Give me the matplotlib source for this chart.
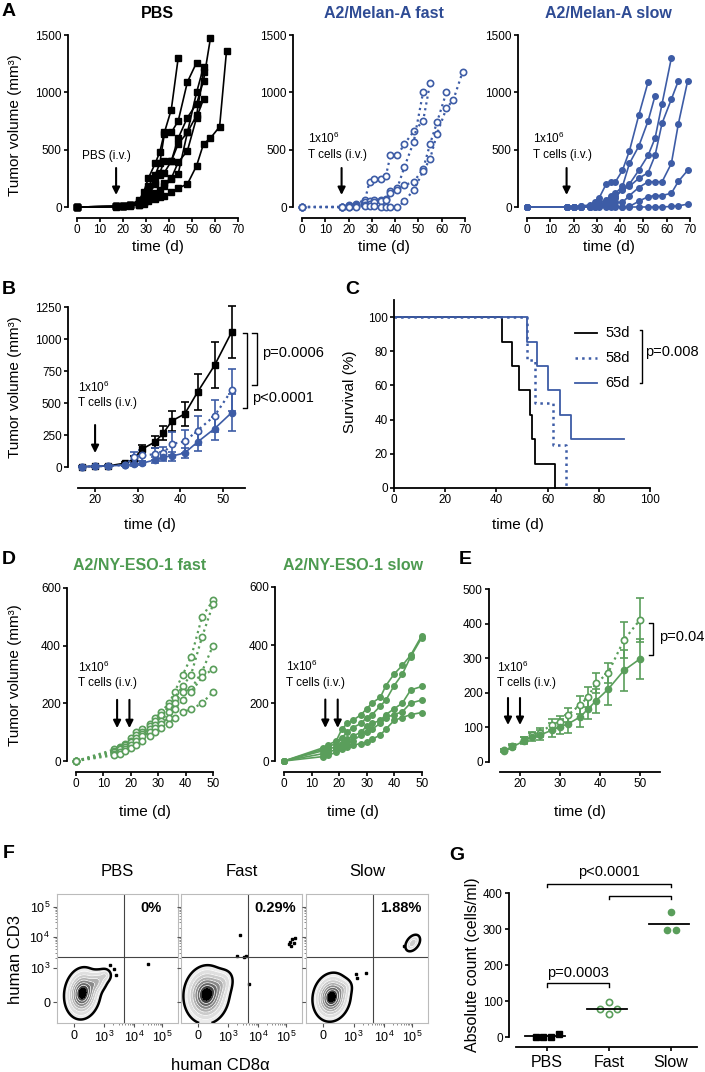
import numpy as np
import matplotlib
matplotlib.use("Agg")
import matplotlib.pyplot as plt

plt.rcParams['font.family'] = ['Liberation Sans', 'DejaVu Sans']
plt.rcParams['mathtext.fontset'] = 'custom'
plt.rcParams['mathtext.rm'] = 'Liberation Sans'
plt.rcParams['mathtext.it'] = 'Liberation Sans:italic'
plt.rcParams['mathtext.bf'] = 'Liberation Sans:bold'

# ---------------- data ----------------
# A: individual tumour growth curves (days, mm3)
pbs_days = [
    [0, 17, 20, 23, 27, 29, 31, 34, 36, 38, 41, 44],
    [0, 17, 20, 23, 27, 29, 31, 34, 36, 38, 41, 44, 48, 52],
    [0, 17, 20, 23, 27, 29, 31, 34, 36, 38, 41, 44, 48, 52, 55, 58],
    [0, 17, 20, 23, 27, 29, 31, 34, 36, 38, 41, 44, 48, 52, 55],
    [0, 17, 20, 23, 27, 29, 31, 34, 36, 38, 41, 44, 48, 52, 55],
    [0, 17, 20, 23, 27, 29, 31, 34, 36, 38, 41, 44, 48, 52, 55, 58, 62, 65],
    [0, 17, 20, 23, 27, 29, 31, 34, 36, 38, 41, 44, 48, 52, 55],
]
pbs_vol = [
    [0, 5, 10, 20, 60, 130, 250, 380, 480, 650, 850, 1300],
    [0, 5, 10, 15, 40, 80, 180, 280, 380, 640, 650, 750, 1090, 1260],
    [0, 5, 10, 15, 30, 60, 120, 220, 300, 400, 400, 600, 780, 900, 1100, 1470],
    [0, 5, 10, 15, 30, 50, 100, 200, 280, 300, 400, 550, 650, 1000, 1220],
    [0, 5, 10, 15, 20, 40, 70, 120, 150, 210, 250, 390, 490, 780, 940],
    [0, 2, 5, 10, 20, 30, 50, 70, 90, 100, 128, 165, 200, 360, 550, 600, 700, 1360],
    [0, 5, 10, 15, 25, 40, 60, 80, 100, 180, 240, 290, 650, 800, 1180],
]
melan_fast_days = [
    [0, 17, 20, 23, 27, 29, 31, 34, 36, 38, 41, 44, 48, 52, 55],
    [0, 17, 20, 23, 27, 29, 31, 34, 36, 38, 41, 44, 48, 52],
    [0, 17, 20, 23, 27, 29, 31, 34, 36, 38, 41, 44, 48, 52, 55, 58, 62],
    [0, 17, 20, 23, 27, 29, 31, 34, 36, 38, 41, 44, 48, 52, 55, 58, 62, 65, 69],
]
melan_fast_vol = [
    [0, 0, 20, 30, 60, 220, 240, 245, 270, 450, 450, 550, 660, 750, 1080],
    [0, 0, 10, 20, 40, 50, 60, 60, 70, 140, 170, 350, 570, 1000],
    [0, 0, 0, 10, 20, 30, 40, 50, 60, 120, 150, 190, 220, 330, 550, 740, 1000],
    [0, 0, 0, 0, 10, 10, 10, 0, 0, 0, 0, 50, 150, 310, 420, 640, 860, 935, 1180],
]
melan_slow_days = [
    [0, 17, 20, 23, 27, 29, 31, 34, 36, 38, 41, 44, 48, 52],
    [0, 17, 20, 23, 27, 29, 31, 34, 36, 38, 41, 44, 48, 52, 55],
    [0, 17, 20, 23, 27, 29, 31, 34, 36, 38, 41, 44, 48, 52, 55, 58, 62],
    [0, 17, 20, 23, 27, 29, 31, 34, 36, 38, 41, 44, 48, 52, 55, 58, 62, 65],
    [0, 17, 20, 23, 27, 29, 31, 34, 36, 38, 41, 44, 48, 52, 55, 58, 62, 65, 69],
    [0, 17, 20, 23, 27, 29, 31, 34, 36, 38, 41, 44, 48, 52, 55, 58, 62, 65, 69],
    [0, 17, 20, 23, 27, 29, 31, 34, 36, 38, 41, 44, 48, 52, 55, 58, 62, 65, 69],
]
melan_slow_vol = [
    [0, 0, 0, 5, 20, 40, 80, 200, 220, 220, 320, 490, 800, 1090],
    [0, 0, 0, 5, 10, 20, 40, 60, 100, 120, 180, 380, 530, 750, 970],
    [0, 0, 0, 0, 5, 10, 20, 40, 60, 80, 160, 200, 320, 450, 600, 900, 1300],
    [0, 0, 0, 0, 5, 10, 20, 30, 50, 100, 150, 180, 250, 300, 450, 730, 940, 1100],
    [0, 0, 0, 0, 0, 5, 10, 20, 30, 40, 40, 100, 170, 220, 220, 220, 380, 725, 1100],
    [0, 0, 0, 0, 0, 0, 5, 10, 10, 5, 0, 5, 50, 90, 100, 100, 120, 223, 320],
    [0, 0, 0, 0, 0, 0, 0, 0, 0, 0, 0, 0, 0, 0, 0, 0, 5, 10, 25],
]

# B: mean +/- SEM
b_days = [17, 20, 23, 27, 29, 31, 34, 36, 38, 41, 44, 48, 52]
b_pbs = [3, 5, 8, 30, 60, 140, 195, 265, 360, 415, 585, 795, 1055]
b_pbs_err = [2, 3, 4, 10, 25, 35, 45, 55, 80, 95, 140, 180, 200]
b_fast = [3, 5, 8, 15, 75, 90, 100, 110, 180, 200, 285, 400, 600]
b_fast_err = [2, 3, 4, 8, 40, 45, 45, 50, 90, 90, 110, 125, 165]
b_slow = [3, 5, 8, 15, 20, 30, 55, 80, 85, 110, 195, 300, 425]
b_slow_err = [2, 3, 4, 6, 10, 15, 25, 35, 35, 40, 70, 90, 145]

# C: survival
surv_pbs_t = [0, 42, 46, 49, 53, 54, 55, 63]
surv_pbs = [100, 85.7, 71.4, 57.1, 42.9, 28.6, 14.3, 0]
surv_fast_t = [0, 52, 55, 62, 67]
surv_fast = [100, 75, 50, 25, 0]
surv_slow_t = [0, 52, 56, 60, 65, 69, 90]
surv_slow = [100, 85.7, 71.4, 57.1, 42.9, 28.6, 28.6]
surv_labels = ['53d', '58d', '65d']

# D: NY-ESO-1 individual curves
nyeso_fast_days = [0, 14, 16, 18, 20, 22, 24, 27, 29, 31, 34, 36, 39, 42, 46, 50]
nyeso_fast_vol = [
    [0, 40, 50, 60, 80, 100, 110, 130, 150, 170, 200, 240, 300, 360, 500, 557],
    [0, 35, 45, 55, 70, 90, 100, 120, 140, 160, 190, 220, 260, 300, 430, 543],
    [0, 30, 40, 50, 65, 80, 95, 110, 125, 140, 170, 200, 240, 250, 310, 400],
    [0, 25, 30, 40, 55, 70, 85, 100, 115, 130, 150, 180, 210, 240, 290, 320],
    [0, 20, 25, 35, 45, 55, 70, 85, 100, 115, 130, 150, 170, 180, 200, 240],
]
nyeso_slow_days = [0, 14, 16, 19, 21, 23, 25, 28, 30, 32, 35, 37, 40, 43, 46, 50]
nyeso_slow_vol = [
    [0, 45, 55, 70, 110, 130, 140, 160, 180, 200, 220, 260, 300, 330, 365, 432],
    [0, 40, 50, 60, 80, 100, 115, 130, 150, 160, 190, 210, 260, 300, 360, 425],
    [0, 35, 40, 50, 60, 75, 85, 100, 120, 130, 140, 160, 180, 200, 245, 257],
    [0, 25, 30, 40, 50, 60, 70, 90, 100, 110, 130, 150, 160, 170, 200, 210],
    [0, 15, 20, 30, 40, 50, 55, 60, 65, 75, 90, 110, 140, 150, 160, 167],
]

# E: mean +/- SEM
e_days = [16, 18, 21, 23, 25, 28, 30, 32, 35, 37, 39, 42, 46, 50]
e_fast = [35, 45, 63, 78, 85, 108, 116, 136, 165, 188, 228, 257, 353, 411]
e_fast_err = [4, 6, 8, 10, 12, 15, 18, 20, 25, 30, 30, 30, 52, 63]
e_slow = [33, 43, 61, 72, 78, 92, 102, 110, 130, 153, 177, 210, 265, 298]
e_slow_err = [5, 6, 10, 12, 15, 20, 22, 25, 30, 30, 35, 45, 60, 57]

# F: flow populations (cx, cy, sx, sy, rho, weight) in display units
flow_titles = ['PBS', 'Fast', 'Slow']
flow_pct = ['0%', '0.29%', '1.88%']
flow_pops = [
    [(0.21, 0.23, 0.06, 0.08, 0.1, 1.0), (0.33, 0.32, 0.045, 0.045, 0.3, 0.3),
     (0.40, 0.37, 0.025, 0.025, 0.0, 0.15)],
    [(0.21, 0.22, 0.075, 0.09, 0.05, 1.0), (0.33, 0.30, 0.05, 0.055, 0.3, 0.2)],
    [(0.21, 0.20, 0.062, 0.075, 0.1, 1.0), (0.31, 0.27, 0.035, 0.035, 0.2, 0.12),
     (0.875, 0.62, 0.03, 0.032, 0.4, 0.3)],
]
flow_dots = [
    [(0.75, 0.46), (0.44, 0.45), (0.47, 0.42), (0.49, 0.37)],
    [(0.49, 0.68), (0.46, 0.52), (0.52, 0.51), (0.54, 0.52), (0.56, 0.30),
     (0.90, 0.63), (0.92, 0.65), (0.93, 0.62), (0.91, 0.60), (0.94, 0.66), (0.89, 0.61)],
    [(0.49, 0.39), (0.80, 0.60), (0.41, 0.38), (0.42, 0.35)],
]

# G: absolute counts
g_groups = ['PBS', 'Fast', 'Slow']
g_pbs = [0, 0, 0, 8]
g_fast = [78, 98, 65, 77]
g_slow = [347, 298, 298]
g_means = [2, 78, 314]

# ---------------- styling ----------------
BLUE = '#3d5ca6'
BLUE_T = '#2e4b94'
GREEN = '#5a9e5b'
GREEN_T = '#4d9a50'
TICK = 8.5
LAB = 11
ANN = 8.5
PV = 10.5

W, H = 705, 1072
fig = plt.figure(figsize=(W / 100, H / 100), dpi=100)


def add_ax(l, t, r, b):
    return fig.add_axes([l / W, 1 - b / H, (r - l) / W, (b - t) / H])


def ftext(x, y, s, **kw):
    kw.setdefault('ha', 'center')
    kw.setdefault('va', 'center')
    fig.text(x / W, 1 - y / H, s, **kw)


def prism(ax, left_out, bottom_out):
    ax.spines[['top', 'right']].set_visible(False)
    ax.spines['left'].set_position(('outward', left_out * 0.72))
    ax.spines['bottom'].set_position(('outward', bottom_out * 0.72))
    for s in ('left', 'bottom'):
        ax.spines[s].set_linewidth(1.3)
    ax.tick_params(length=3, width=1.2, labelsize=TICK, pad=1.5)
    ax.patch.set_alpha(0)


def arrow(ax, x, y0, y1):
    ax.annotate('', xy=(x, y1), xytext=(x, y0),
                arrowprops=dict(arrowstyle='-|>', lw=1.5, color='k', mutation_scale=11,
                                shrinkA=0, shrinkB=0), annotation_clip=False)


def bracket(ax, x, y0, y1, dx):
    ax.plot([x - dx, x, x, x - dx], [y0, y0, y1, y1], color='k', lw=1, clip_on=False)


# ---------------- A ----------------
a_rects = [(77, 35, 238, 207), (302, 35, 465, 207), (527, 35, 690, 207)]
a_titles = [('PBS', 'k'), ('A2/Melan-A fast', BLUE_T), ('A2/Melan-A slow', BLUE_T)]
a_data = [(pbs_days, pbs_vol), (melan_fast_days, melan_fast_vol), (melan_slow_days, melan_slow_vol)]
for i, rect in enumerate(a_rects):
    ax = add_ax(*rect)
    prism(ax, 9, 11)
    days, vols = a_data[i]
    for d, v in zip(days, vols):
        if i == 0:
            ax.plot(d, v, '-s', color='k', ms=3.8, lw=1.2, clip_on=False)
        elif i == 1:
            ax.plot(d, v, ':o', color=BLUE, mfc='white', mec=BLUE, ms=4.5, mew=1.2, lw=1.6, clip_on=False)
        else:
            ax.plot(d, v, '-o', color=BLUE, ms=4, lw=1.2, clip_on=False)
    ax.set_xlim(0, 70)
    ax.set_ylim(0, 1500)
    ax.set_xticks(range(0, 71, 10))
    ax.set_yticks([0, 500, 1000, 1500])
    arrow(ax, 17, 340, 105)
    if i == 0:
        ax.text(13, 445, 'PBS (i.v.)', ha='center', va='center', fontsize=ANN)
    else:
        ax.text(2.6, 602, '1x10$^6$', ha='left', va='center', fontsize=ANN)
        ax.text(2.6, 453, 'T cells (i.v.)', ha='left', va='center', fontsize=ANN)
    cx = (rect[0] + rect[2]) / 2
    ftext(cx, 247, 'time (d)', fontsize=LAB)
    ftext(cx, 14, a_titles[i][0], color=a_titles[i][1], fontsize=11.5, fontweight='bold')
ftext(15, 125, 'Tumor volume (mm³)', rotation=90, fontsize=LAB)

# ---------------- B ----------------
ax = add_ax(78, 307, 244.5, 467)
prism(ax, 10, 21)
ax.errorbar(b_days, b_pbs, yerr=b_pbs_err, fmt='-s', color='k', ms=4, lw=1.2, capsize=3,
            elinewidth=1.2, capthick=1.2, clip_on=False)
ax.errorbar(b_days, b_fast, yerr=b_fast_err, fmt=':o', color=BLUE, mfc='white', ms=4.5, mew=1.2,
            lw=1.6, capsize=3, elinewidth=1.2, capthick=1.2, clip_on=False)
ax.errorbar(b_days, b_slow, yerr=b_slow_err, fmt='-o', color=BLUE, ms=4.5, lw=1.2, capsize=3,
            elinewidth=1.2, capthick=1.2, clip_on=False)
ax.set_xlim(16, 55)
ax.set_ylim(0, 1250)
ax.set_xticks([20, 30, 40, 50])
ax.set_yticks([0, 250, 500, 750, 1000, 1250])
arrow(ax, 20, 328, 109)
ax.text(16, 625, '1x10$^6$', ha='left', va='center', fontsize=ANN)
ax.text(16, 500, 'T cells (i.v.)', ha='left', va='center', fontsize=ANN)
bracket(ax, 57.9, 1047, 641, 1.1)
ax.text(59.1, 891, 'p=0.0006', ha='left', va='center', fontsize=PV)
bracket(ax, 55.6, 1047, 461, 0.9)
ax.text(56.8, 539, 'p<0.0001', ha='left', va='center', fontsize=PV)
ftext(150, 525, 'time (d)', fontsize=LAB)
ftext(15, 387, 'Tumor volume (mm³)', rotation=90, fontsize=LAB)

# ---------------- C ----------------
ax = add_ax(394, 300, 650, 488)
ax.spines[['top', 'right']].set_visible(False)
for s in ('left', 'bottom'):
    ax.spines[s].set_linewidth(1.3)
ax.tick_params(length=3, width=1.2, labelsize=TICK, pad=1.5)
ax.step(surv_pbs_t, surv_pbs, where='post', color='k', lw=1.3, clip_on=False)
ax.step(surv_slow_t, surv_slow, where='post', color=BLUE, lw=1.3, clip_on=False)
ax.step(surv_fast_t, surv_fast, where='post', color=BLUE, lw=1.8, ls=':', clip_on=False)
ax.set_xlim(0, 100)
ax.set_ylim(0, 110)
ax.set_xticks(range(0, 101, 20))
ax.set_yticks(range(0, 101, 20))
leg_y = [90.6, 76, 61.4]
leg_style = [('k', '-', 1.3), (BLUE, ':', 1.8), (BLUE, '-', 1.3)]
for yy, (c, ls, lw), lab in zip(leg_y, leg_style, surv_labels):
    ax.plot([70.7, 79.3], [yy, yy], color=c, ls=ls, lw=lw, clip_on=False)
    ax.text(82.5, yy, lab, ha='left', va='center', fontsize=PV)
bracket(ax, 96.9, 92.4, 61.4, 0.8)
ax.text(98.2, 79.5, 'p=0.008', ha='left', va='center', fontsize=PV)
ftext(518, 525, 'time (d)', fontsize=LAB)
ftext(350, 392, 'Survival (%)', rotation=90, fontsize=LAB)

# ---------------- D ----------------
d_rects = [(76, 588, 213, 761), (284, 587, 421.7, 761)]
d_titles = ['A2/NY-ESO-1 fast', 'A2/NY-ESO-1 slow']
for i, rect in enumerate(d_rects):
    ax = add_ax(*rect)
    prism(ax, 9, 11)
    if i == 0:
        for v in nyeso_fast_vol:
            ax.plot(nyeso_fast_days, v, ':o', color=GREEN, mfc='white', mec=GREEN, ms=4.5, mew=1.2,
                    lw=1.6, clip_on=False)
    else:
        for v in nyeso_slow_vol:
            ax.plot(nyeso_slow_days, v, '-o', color=GREEN, ms=4, lw=1.2, clip_on=False)
    ax.set_xlim(0, 50)
    ax.set_ylim(0, 600)
    ax.set_xticks(range(0, 51, 10))
    ax.set_yticks([0, 200, 400, 600])
    arrow(ax, 15, 212, 114)
    arrow(ax, 19.5, 212, 114)
    ax.text(0.8, 326, '1x10$^6$', ha='left', va='center', fontsize=ANN)
    ax.text(0.8, 270, 'T cells (i.v.)', ha='left', va='center', fontsize=ANN)
    cx = (rect[0] + rect[2]) / 2
    ftext(cx, 812, 'time (d)', fontsize=LAB)
    ftext([140, 353][i], 566, d_titles[i], color=GREEN_T, fontsize=11.5, fontweight='bold')
ftext(15, 675, 'Tumor volume (mm³)', rotation=90, fontsize=LAB)

# ---------------- E ----------------
ax = add_ax(500, 589, 660, 762)
prism(ax, 11, 10)
ax.errorbar(e_days, e_fast, yerr=e_fast_err, fmt=':o', color=GREEN, mfc='white', ms=4.5, mew=1.2,
            lw=1.6, capsize=3, elinewidth=1.2, capthick=1.2, clip_on=False)
ax.errorbar(e_days, e_slow, yerr=e_slow_err, fmt='-o', color=GREEN, ms=4.5, lw=1.2, capsize=3,
            elinewidth=1.2, capthick=1.2, clip_on=False)
ax.set_xlim(15, 55)
ax.set_ylim(0, 500)
ax.set_xticks([20, 30, 40, 50])
ax.set_yticks(range(0, 501, 100))
arrow(ax, 17, 185, 107)
arrow(ax, 20, 185, 107)
ax.text(14.3, 272, '1x10$^6$', ha='left', va='center', fontsize=ANN)
ax.text(14.3, 228, 'T cells (i.v.)', ha='left', va='center', fontsize=ANN)
bracket(ax, 53.25, 402, 309, 1.0)
ax.text(54.8, 361, 'p=0.04', ha='left', va='center', fontsize=PV)
ftext(580, 812, 'time (d)', fontsize=LAB)

# ---------------- F ----------------
f_rects = [(57, 894, 178, 1023), (181, 894, 302, 1023), (306, 894, 428, 1023)]
f_xt = [0.14, 0.39, 0.64, 0.87]
f_yt = [0.16, 0.43, 0.67, 0.90]
f_lab = ['0', '$10^3$', '$10^4$', '$10^5$']
gx = np.linspace(0, 1, 260)
GX, GY = np.meshgrid(gx, gx)
for i, rect in enumerate(f_rects):
    ax = add_ax(*rect)
    Z = np.zeros_like(GX)
    for cx, cy, sx, sy, rho, w in flow_pops[i]:
        dx = (GX - cx) / sx
        dy = (GY - cy) / sy
        Z += w * np.exp(-(dx * dx - 2 * rho * dx * dy + dy * dy) / (2 * (1 - rho ** 2)))
    ax.contourf(GX, GY, Z, levels=[0.04, 0.1, 0.2, 0.32, 0.45, 0.6, 0.75, 0.9, 2],
                cmap='Greys', vmin=-0.1, vmax=1.05)
    ax.contour(GX, GY, Z, levels=[0.1, 0.2, 0.32, 0.45, 0.6, 0.75], colors='white', linewidths=0.55)
    ax.contour(GX, GY, Z, levels=[0.04], colors='k', linewidths=1.8)
    dx_, dy_ = zip(*flow_dots[i])
    ax.plot(dx_, dy_, 's', color='k', ms=1.6)
    ax.axvline(0.55, color='#444444', lw=0.8)
    ax.axhline(0.51, color='#444444', lw=0.8)
    ax.set_xlim(0, 1)
    ax.set_ylim(0, 1)
    for s in ax.spines.values():
        s.set_color('#bbbbbb')
        s.set_linewidth(0.8)
    ax.set_xticks(f_xt)
    ax.set_xticklabels(f_lab)
    ax.set_yticks(f_yt)
    ax.set_yticklabels(f_lab if i == 0 else [])
    minor = [0.39 + 0.25 * np.log10(k) for k in range(2, 10)] + \
            [0.64 + 0.23 * np.log10(k) for k in range(2, 10)]
    ax.set_xticks(minor, minor=True)
    ax.set_yticks([0.43 + 0.24 * np.log10(k) for k in range(2, 10)] +
                  [0.67 + 0.23 * np.log10(k) for k in range(2, 10)], minor=True)
    ax.tick_params(which='major', length=3, width=0.8, color='#555555', labelsize=9, pad=2)
    ax.tick_params(which='minor', length=1.5, width=0.6, color='#777777')
    ax.text(0.78, 0.89, flow_pct[i], ha='center', va='center', fontsize=10.5, fontweight='bold',
            transform=ax.transAxes)
    ftext((rect[0] + rect[2]) / 2, 872, flow_titles[i], fontsize=12)
ftext(220, 1066, 'human CD8α', fontsize=12)
ftext(16, 960, 'human CD3', rotation=90, fontsize=12)

# ---------------- G ----------------
ax = add_ax(516, 893, 697, 1037)
prism(ax, 7, 10)
g_jit_pbs = [-0.18, -0.06, 0.06, 0.19]
g_jit_fast = [-0.14, 0.0, 0.0, 0.13]
g_jit_slow = [0.0, -0.07, 0.08]
ax.plot([0 + j for j in g_jit_pbs], g_pbs, 's', color='k', ms=4, clip_on=False)
ax.plot([1 + j for j in g_jit_fast], g_fast, 'o', color=GREEN, mfc='white', ms=4.5, mew=1.2, clip_on=False)
ax.plot([2 + j for j in g_jit_slow], g_slow, 'o', color=GREEN, ms=4.5, clip_on=False)
for k, m in enumerate(g_means):
    ax.plot([k - 0.36, k + 0.29], [m, m], color='k', lw=1.3, clip_on=False)
ax.set_xlim(-0.5, 2.42)
ax.set_ylim(0, 400)
ax.set_yticks(range(0, 401, 100))
ax.set_xticks(range(3))
ax.set_xticklabels(g_groups, fontsize=11.5)
ax.tick_params(axis='x', pad=3)
ax.plot([0, 0, 2, 2], [417, 425, 425, 417], color='k', lw=1, clip_on=False)
ax.text(1, 458, 'p<0.0001', ha='center', va='center', fontsize=PV)
ax.plot([1, 1, 2, 2], [383, 392, 392, 383], color='k', lw=1, clip_on=False)
ax.plot([0, 0, 1, 1], [139, 150, 150, 139], color='k', lw=1, clip_on=False)
ax.text(0.5, 178, 'p=0.0003', ha='center', va='center', fontsize=PV)
ftext(472, 965, 'Absolute count (cells/ml)', rotation=90, fontsize=11.5)

# ---------------- panel letters ----------------
for lab, x, y in [('A', 9, 12), ('B', 9, 290), ('C', 352, 290), ('D', 9, 560), ('E', 465, 560),
                  ('F', 9, 853), ('G', 457, 855)]:
    ftext(x, y, lab, fontsize=14, fontweight='bold')

fig.savefig('out.png', dpi=100)
